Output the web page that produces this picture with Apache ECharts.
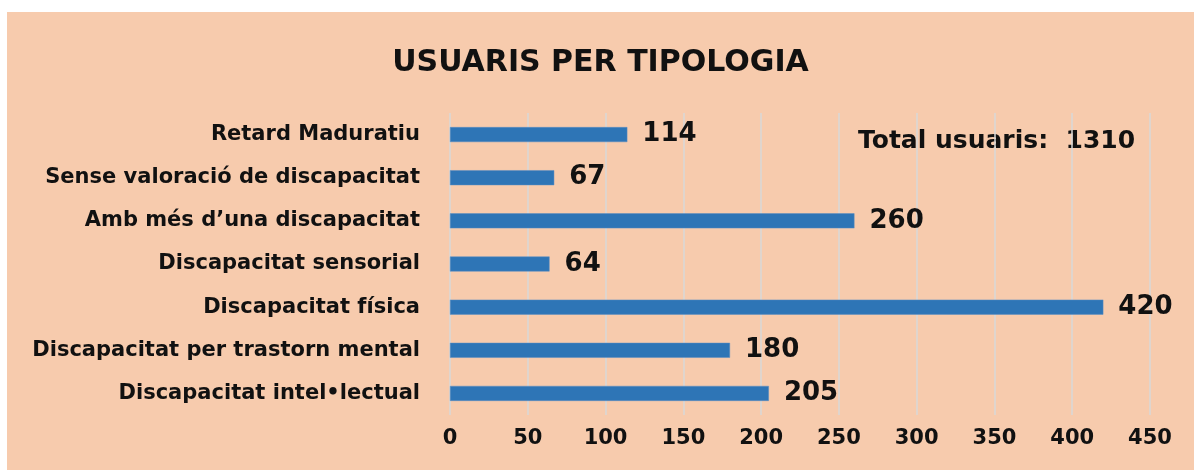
<!DOCTYPE html>
<html>
<head>
<meta charset="utf-8">
<script src="https://cdn.jsdelivr.net/npm/echarts@6/dist/echarts.min.js"></script>
<style>
  html, body { margin: 0; padding: 0; background: #ffffff; }
  #chart { position: absolute; left: 7px; top: 12px; width: 1187px; height: 458px; }
</style>
</head>
<body>
<div id="chart"></div>
<script>
// categories top to bottom as in the picture
var categories = [
  'Retard Maduratiu',
  'Sense valoració de discapacitat',
  'Amb més d\u2019una discapacitat',
  'Discapacitat sensorial',
  'Discapacitat física',
  'Discapacitat per trastorn mental',
  'Discapacitat intel\u2022lectual'
];
var usuaris = [114, 67, 260, 64, 420, 180, 205];
var totalText = 'Total usuaris:  1310';

var chart = echarts.init(document.getElementById('chart'));

var font = '"DejaVu Sans", sans-serif';

chart.setOption({
  backgroundColor: '#F7CBAD',
  animation: false,
  title: {
    text: 'USUARIS PER TIPOLOGIA',
    left: 'center',
    top: 31,
    textStyle: { fontFamily: font, fontWeight: 'bold', fontSize: 30, color: '#111' }
  },
  graphic: [{
    type: 'text',
    left: 851,
    top: 117,
    style: { text: totalText, font: 'bold 25px ' + font, fill: '#111' }
  }],
  grid: { left: 443, right: 44, top: 101, bottom: 55, containLabel: false },
  xAxis: {
    type: 'value',
    min: 0,
    max: 450,
    interval: 50,
    axisLine: { show: false },
    axisTick: { show: false },
    axisLabel: { margin: 13, fontFamily: font, fontWeight: 'bold', fontSize: 21, color: '#111' },
    splitLine: { lineStyle: { color: '#d9d9d9', width: 1.5 } }
  },
  yAxis: {
    type: 'category',
    inverse: true,
    data: categories,
    axisLine: { show: false },
    axisTick: { show: false },
    axisLabel: { margin: 30, fontFamily: font, fontWeight: 'bold', fontSize: 21, color: '#111' }
  },
  series: [{
    type: 'bar',
    data: usuaris,
    barWidth: 15,
    itemStyle: { color: '#2E75B6', borderColor: '#5b8fc4', borderWidth: 0.5 },
    label: {
      show: true,
      position: 'right',
      distance: 15,
      fontFamily: font,
      fontWeight: 'bold',
      fontSize: 26,
      color: '#111'
    }
  }]
});
</script>
</body>
</html>
